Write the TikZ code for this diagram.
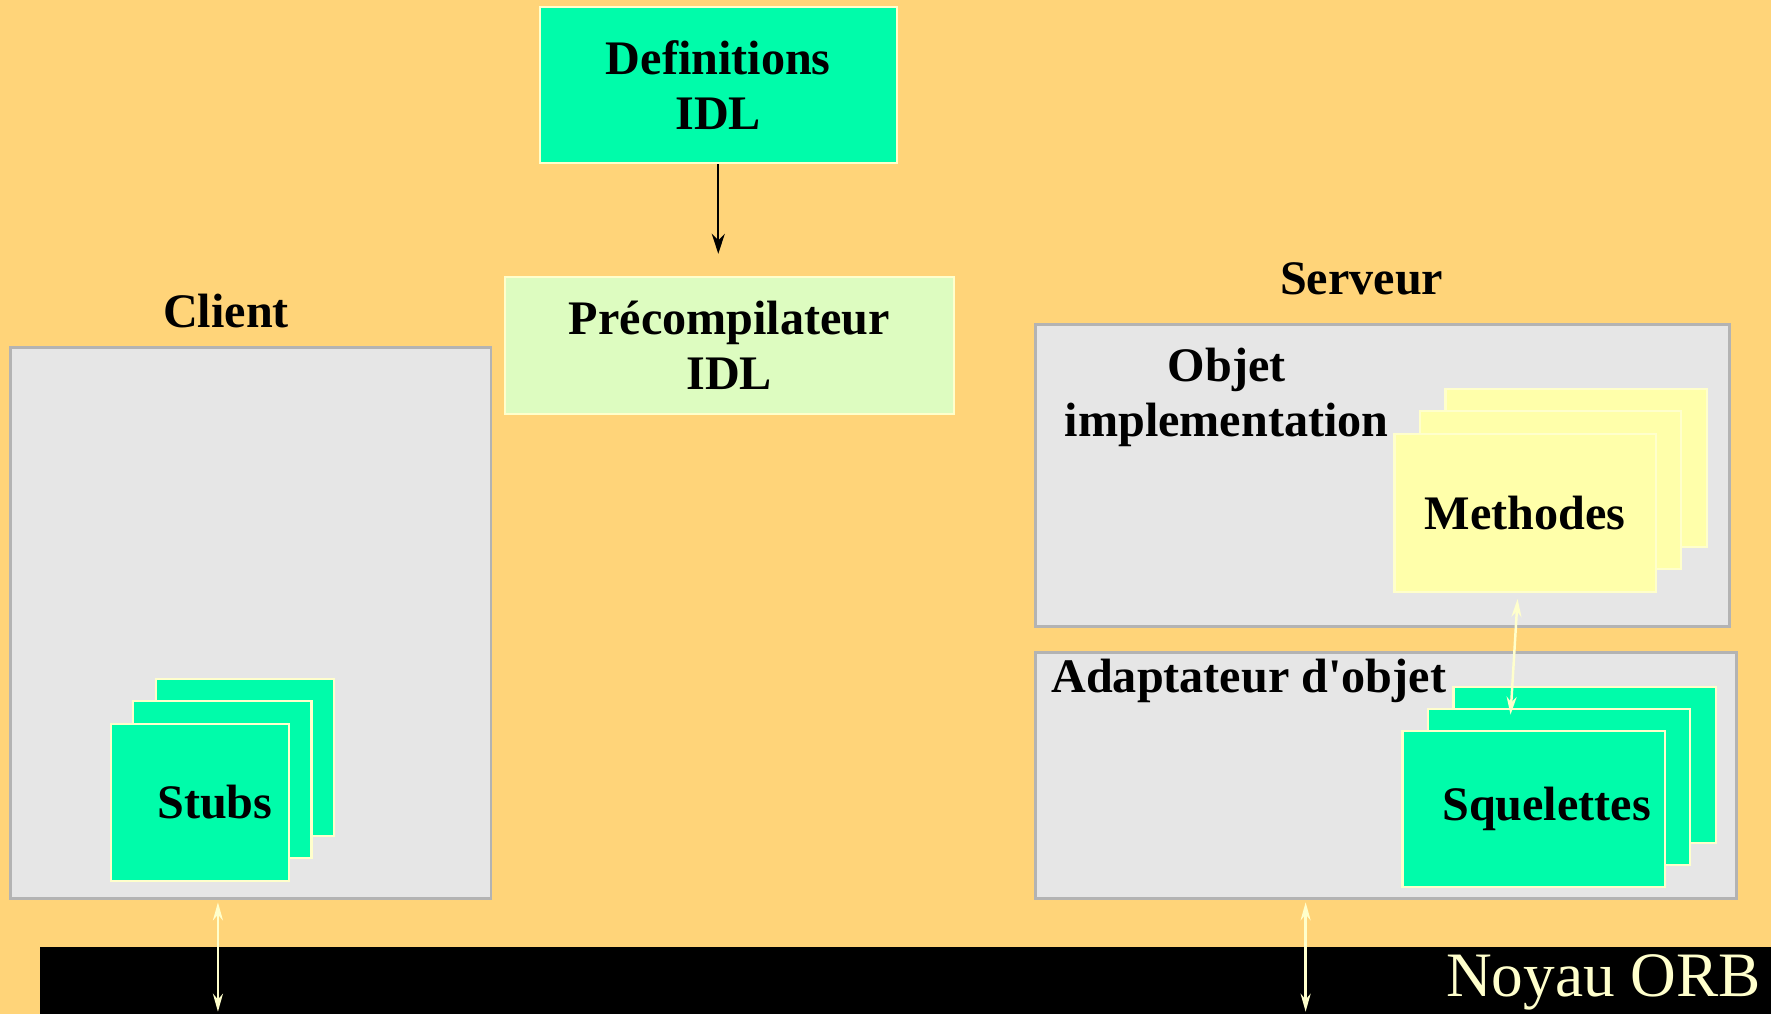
\documentclass[tikz,border=0pt]{standalone}
\usepackage{fontspec}
\setmainfont{Liberation Serif}
\usepackage{xcolor}
\usetikzlibrary{arrows.meta,positioning}

\definecolor{bgorange}{RGB}{255,212,121}
\definecolor{idlgreen}{RGB}{0,252,170}
\definecolor{palegreen}{RGB}{221,252,192}
\definecolor{panelgrey}{RGB}{230,230,230}
\definecolor{panelline}{RGB}{179,179,179}
\definecolor{paleyellow}{RGB}{255,255,170}
\definecolor{cream}{RGB}{255,255,204}

\tikzset{
  card/.style={draw=cream, line width=0.6pt, inner sep=0pt, align=center},
  greencard/.style={card, fill=idlgreen},
  yellowcard/.style={card, fill=paleyellow},
  panel/.style={draw=panelline, line width=0.85pt, fill=panelgrey, inner sep=0pt},
  busarrow/.style={{Stealth[length=0.18cm,width=0.1cm]}-{Stealth[length=0.18cm,width=0.1cm]}, draw=cream, line width=0.7pt},
}

\begin{document}
\begin{tikzpicture}[x=0.01cm, y=-0.01cm, font=\bfseries\fontsize{13.7}{15.8}\selectfont]
    \fill[bgorange] (0,0) rectangle (1771,1014);

    % IDL chain
    \node[greencard, minimum width=3.57cm, minimum height=1.56cm] (defs) at (718.5,85) {Definitions\\IDL};
    \node[card, fill=palegreen, minimum width=4.49cm, minimum height=1.37cm] (prec) at (729.5,345.5) {Précompilateur\\IDL};
    \draw[-{Stealth[length=0.2cm,width=0.13cm]}, line width=0.6pt] (defs.south) -- ([yshift=0.22cm]defs.south |- prec.north);

    % client side
    \node[anchor=base] (clientlbl) at (226,328) {Client};
    \node[panel, minimum width=4.8cm, minimum height=5.51cm] (client) at (251,623.5) {};
    \foreach \k in {2,1} {
      \node[greencard, minimum width=1.78cm, minimum height=1.57cm] (stubs\k) at (200+22.5*\k,802.5-22.5*\k) {};
    }
    \node[greencard, minimum width=1.78cm, minimum height=1.57cm] (stubs) at (200,802.5) {\hspace*{0.3cm}Stubs};

    % server side
    \node[anchor=base] (serveurlbl) at (1362,295) {Serveur};
    \node[panel, minimum width=6.94cm, minimum height=3.02cm] (impl) at (1383,476) {};
    \node[anchor=base, align=center] (impllbl) at (1227,437) {Objet\\implementation};
    \foreach \k in {2,1} {
      \node[yellowcard, minimum width=2.61cm, minimum height=1.58cm] (meth\k) at (1525.5+25.5*\k,513-22.5*\k) {};
    }
    \node[yellowcard, minimum width=2.61cm, minimum height=1.58cm] (meth) at (1525.5,513) {Methodes};

    \node[panel, minimum width=7.01cm, minimum height=2.46cm] (adapt) at (1386.5,776) {};
    \node[anchor=base west, inner sep=0pt] (adaptlbl) at (1051,693) {Adaptateur d\textquotesingle objet};
    \foreach \k in {2,1} {
      \node[greencard, minimum width=2.62cm, minimum height=1.56cm] (squel\k) at (1534+25.5*\k,809-22*\k) {};
    }
    \node[greencard, minimum width=2.62cm, minimum height=1.56cm] (squel) at (1534,809) {\hspace*{0.26cm}Squelettes};

    % ORB bus
    \node[fill=black, inner sep=0pt, minimum width=17.3cm, minimum height=0.67cm] (orb) at (906,980.5) {};
    \node[anchor=base east, inner sep=0pt, text=cream, font=\fontsize{18}{20}\selectfont] (orblbl) at (1762,997) {Noyau ORB};

    \coordinate (cbus) at (218,1012);
    \coordinate (sbus) at (1306,1012);
    \draw[busarrow] ([yshift=-0.02cm]client.south -| cbus) -- (cbus);
    \draw[busarrow] ([yshift=-0.02cm]adapt.south -| sbus) -- (sbus);
    \draw[busarrow] ([xshift=-0.075cm,yshift=-0.06cm]meth.south) -- ([xshift=-0.485cm,yshift=-0.07cm]squel1.north);
\end{tikzpicture}
\end{document}
